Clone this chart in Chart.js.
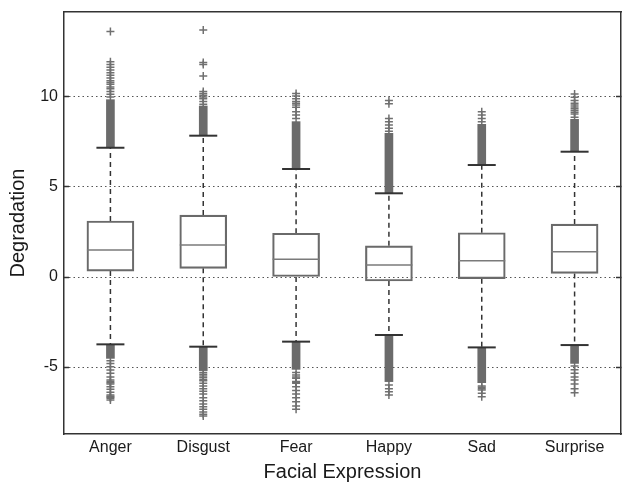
<!DOCTYPE html>
<html>
<head>
<meta charset="utf-8">
<script src="https://cdn.jsdelivr.net/npm/chart.js@4/dist/chart.umd.min.js"></script>
<style>
  body { margin: 0; background: #fff; }
  #wrap { width: 622px; height: 486px; }
</style>
</head>
<body>
<div id="wrap"><canvas id="chart" width="622" height="486"></canvas></div>
<script>
// ==================== DATA ====================
const categories = ['Anger', 'Disgust', 'Fear', 'Happy', 'Sad', 'Surprise'];

const q1 = [0.33, 0.48, 0.0, -0.22, -0.09, 0.2];
const medians = [1.5, 1.78, 0.98, 0.67, 0.91, 1.41];
const q3 = [3.11, 3.44, 2.43, 1.73, 2.46, 2.94];
const whiskerLow = [-3.74, -3.87, -3.59, -3.22, -3.91, -3.78];
const whiskerHigh = [7.18, 7.85, 6.0, 4.65, 6.22, 6.96];

// solid runs of overlapping outlier marks just beyond the whiskers
const denseHigh = [9.85, 9.5, 8.63, 7.98, 8.48, 8.76];
const denseLow = [-4.52, -5.2, -5.13, -5.81, -5.87, -4.8];

// single outlier marks, one list per category
const outliers = [
    [13.63, 11.95, 11.8, 11.65, 11.5, 11.35, 11.2, 11.05, 10.9, 10.8, 10.7, 10.55, 10.45, 10.3, 10.15, 10.0,
     -4.65, -4.8, -4.98, -5.17, -5.35, -5.55, -5.72, -5.8, -5.88, -5.94, -6.1, -6.24, -6.4, -6.56, -6.62, -6.68, -6.74, -6.83],
    [13.72, 11.92, 11.8, 11.17, 10.3, 10.2, 10.1, 10.0, 9.9, 9.75, 9.6,
     -5.3, -5.4, -5.5, -5.6, -5.7, -5.76, -5.9, -6.05, -6.2, -6.35, -6.5, -6.7, -6.87, -7.05, -7.2, -7.35, -7.5, -7.62, -7.72],
    [10.2, 10.05, 9.9, 9.75, 9.65, 9.55, 9.43, 9.18, 9.0, 8.8,
     -5.31, -5.44, -5.55, -5.63, -5.8, -5.85, -5.9, -6.1, -6.3, -6.5, -6.7, -6.93, -7.17, -7.35],
    [9.8, 9.62, 8.8, 8.63, 8.44, 8.26, 8.1,
     -6.0, -6.2, -6.37, -6.55],
    [9.18, 9.0, 8.8, 8.63,
     -6.05, -6.13, -6.2, -6.28, -6.46, -6.65],
    [10.17, 9.98, 9.8, 9.65, 9.55, 9.45, 9.35, 9.25, 9.15, 9.05, 8.87,
     -4.94, -5.15, -5.35, -5.55, -5.72, -5.94, -6.2, -6.43]
];

const yTicks = [-5, 0, 5, 10];
const yMin = -8.72;
const yMax = 14.72;

// ==================== BUILD ====================
const FONT = "'Liberation Sans', Arial, Helvetica, sans-serif";
const TEXT = '#1a1a1a';

const whiskerPoints = [];
const capPoints = [];
const outlierPoints = [];
categories.forEach((c, i) => {
    whiskerPoints.push({ x: c, y: q3[i] }, { x: c, y: whiskerHigh[i] }, { x: c, y: null });
    whiskerPoints.push({ x: c, y: q1[i] }, { x: c, y: whiskerLow[i] }, { x: c, y: null });
    capPoints.push({ x: c, y: whiskerHigh[i] }, { x: c, y: whiskerLow[i] });
    outliers[i].forEach(v => outlierPoints.push({ x: c, y: v }));
});

// keep scales from pushing the plot area inwards for label overhang
function noPad(s) {
    s.paddingTop = 0;
    s.paddingBottom = 0;
    s.paddingLeft = 0;
    s.paddingRight = 0;
}

function fixedTicks(axis) {
    axis.ticks = yTicks.map(v => ({ value: v }));
}

const ctx = document.getElementById('chart').getContext('2d');

new Chart(ctx, {
    type: 'bar',
    data: {
        labels: categories,
        datasets: [
            {
                // boxes
                data: categories.map((c, i) => [q1[i], q3[i]]),
                backgroundColor: 'rgba(0,0,0,0)',
                borderColor: '#6a6a6a',
                borderWidth: 1.5,
                borderSkipped: false,
                barThickness: 47,
                grouped: false,
                order: 3
            },
            {
                data: categories.map((c, i) => [whiskerHigh[i], denseHigh[i]]),
                backgroundColor: '#6b6b6b',
                borderWidth: 0,
                barThickness: 8,
                grouped: false,
                order: 2
            },
            {
                data: categories.map((c, i) => [denseLow[i], whiskerLow[i]]),
                backgroundColor: '#6b6b6b',
                borderWidth: 0,
                barThickness: 8,
                grouped: false,
                order: 2
            },
            {
                type: 'line',
                data: whiskerPoints,
                borderColor: '#333',
                borderWidth: 1.5,
                borderDash: [5, 4],
                pointRadius: 0,
                spanGaps: false,
                order: 6
            },
            {
                type: 'line',
                data: capPoints,
                showLine: false,
                pointStyle: 'line',
                pointRadius: 14,
                pointBorderWidth: 2,
                pointBorderColor: '#333',
                order: 1
            },
            {
                type: 'line',
                data: categories.map((c, i) => ({ x: c, y: medians[i] })),
                showLine: false,
                pointStyle: 'line',
                pointRadius: 23.5,
                pointBorderWidth: 1.5,
                pointBorderColor: '#7a7a7a',
                order: 1
            },
            {
                type: 'line',
                data: outlierPoints,
                showLine: false,
                pointStyle: 'cross',
                pointRadius: 4,
                pointBorderWidth: 1.5,
                pointBorderColor: '#707070',
                order: 2
            }
        ]
    },
    options: {
        responsive: false,
        animation: false,
        events: [],
        layout: { autoPadding: false, padding: { left: 6, right: 1, top: 12, bottom: 2 } },
        plugins: { legend: { display: false }, tooltip: { enabled: false } },
        scales: {
            x: {
                grid: { display: false, drawTicks: false },
                border: { color: '#333', width: 1.5 },
                ticks: { color: TEXT, font: { family: FONT, size: 16 }, padding: 4 },
                title: {
                    display: true, text: 'Facial Expression', color: TEXT,
                    font: { family: FONT, size: 20 }, padding: { top: 3, bottom: 0 }
                },
                afterFit: s => { s.height = 50; noPad(s); }
            },
            y: {
                min: yMin,
                max: yMax,
                afterBuildTicks: fixedTicks,
                afterFit: s => { s.width = 58; noPad(s); },
                grid: {
                    color: '#555', lineWidth: 1,
                    drawTicks: true, tickLength: -5, tickColor: '#333', tickWidth: 1.5, tickBorderDash: []
                },
                border: { color: '#333', width: 1.5, dash: [1.5, 3] },
                ticks: { color: TEXT, font: { family: FONT, size: 16 }, padding: 11 },
                title: {
                    display: true, text: 'Degradation', color: TEXT,
                    font: { family: FONT, size: 20 }, padding: { top: 0, bottom: 4 }
                }
            },
            x2: {
                position: 'top',
                labels: categories,
                grid: { display: false, drawTicks: false },
                border: { color: '#333', width: 1.5 },
                ticks: { display: false },
                afterFit: s => { s.height = 0; noPad(s); }
            },
            y2: {
                position: 'right',
                min: yMin,
                max: yMax,
                afterBuildTicks: fixedTicks,
                grid: {
                    display: true, drawOnChartArea: false,
                    drawTicks: true, tickLength: -5, tickColor: '#333', tickWidth: 1.5
                },
                border: { color: '#333', width: 1.5 },
                ticks: { display: false },
                afterFit: s => { s.width = 0; noPad(s); }
            }
        }
    }
});
</script>
</body>
</html>
